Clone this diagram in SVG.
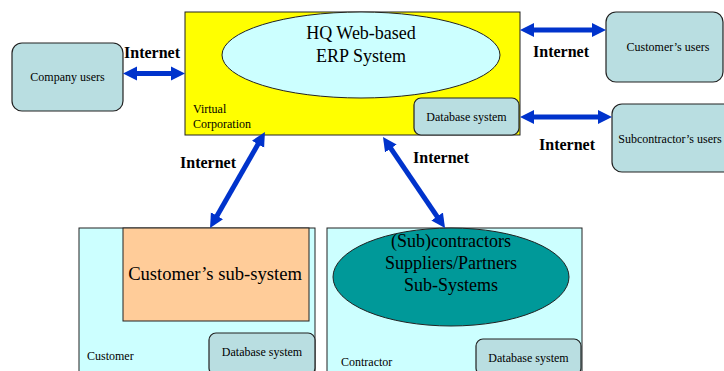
<svg xmlns="http://www.w3.org/2000/svg" width="724" height="371" viewBox="0 0 724 371">
<style>
text{fill:#000;font-family:'Liberation Serif','Times New Roman',serif}
.s{font-size:12px}
.m{font-size:18px}
.l{font-size:18.6px}
.net{font-size:16px;font-weight:bold}
.rb{fill:#B9DEE1;stroke:#222;stroke-width:1.2}
.arr{stroke:#0033CC;stroke-width:5;fill:none;marker-start:url(#ah);marker-end:url(#ah)}
</style>
<defs>
<marker id="ah" markerUnits="userSpaceOnUse" markerWidth="15" markerHeight="15" refX="1" refY="7" orient="auto-start-reverse" viewBox="0 0 15 14">
<path d="M0,0 L14,7 L0,14 z" fill="#0033CC"/>
</marker>
</defs>
<rect width="724" height="371" fill="#fff"/>

<g id="company-users">
<rect class="rb" x="12" y="43" width="111" height="68" rx="10"/>
<text class="s" x="67.5" y="81" text-anchor="middle">Company users</text>
</g>

<g id="virtual-corporation">
<rect x="185" y="12" width="335" height="123" fill="#FFFF00" stroke="#222" stroke-width="1"/>
<text class="s" x="193" y="113">Virtual</text>
<text class="s" x="193" y="128">Corporation</text>
</g>
<g id="hq-erp">
<ellipse cx="361" cy="55" rx="139" ry="43" fill="#CCFFFF" stroke="#222" stroke-width="1"/>
<text class="m" x="361" y="39" text-anchor="middle">HQ Web-based</text>
<text class="m" x="361" y="62" text-anchor="middle">ERP System</text>
</g>
<g id="hq-db">
<rect class="rb" x="414" y="98" width="105" height="37" rx="7"/>
<text class="s" x="466.5" y="121" text-anchor="middle">Database system</text>
</g>

<g id="customers-users">
<rect class="rb" x="606" y="12" width="117" height="70" rx="10"/>
<text class="s" x="668" y="51" text-anchor="middle">Customer’s users</text>
</g>

<g id="subcontractors-users">
<rect class="rb" x="612" y="104" width="122" height="68" rx="10"/>
<text class="s" x="670" y="143" text-anchor="middle">Subcontractor’s users</text>
</g>

<g id="customer">
<rect x="79" y="228" width="236" height="146" fill="#CCFFFF" stroke="#222" stroke-width="1"/>
<text class="s" x="87" y="360">Customer</text>
</g>
<g id="customer-subsystem">
<rect x="123" y="228" width="186" height="93" fill="#FFCC99" stroke="#222" stroke-width="1"/>
<text class="l" x="215" y="280" text-anchor="middle">Customer’s sub-system</text>
</g>
<g id="customer-db">
<rect class="rb" x="209" y="333" width="106" height="42" rx="7"/>
<text class="s" x="262" y="356" text-anchor="middle">Database system</text>
</g>

<g id="contractor">
<rect x="327" y="228" width="255" height="146" fill="#CCFFFF" stroke="#222" stroke-width="1"/>
<text class="s" x="341" y="366">Contractor</text>
</g>
<g id="contractor-subsystems">
<ellipse cx="451" cy="277" rx="118" ry="49" fill="#009999" stroke="#222" stroke-width="1"/>
<text class="m" x="451" y="247" text-anchor="middle">(Sub)contractors</text>
<text class="m" x="451" y="269" text-anchor="middle">Suppliers/Partners</text>
<text class="m" x="451" y="291" text-anchor="middle">Sub-Systems</text>
</g>
<g id="contractor-db">
<rect class="rb" x="476" y="339" width="105" height="36" rx="7"/>
<text class="s" x="528.5" y="362" text-anchor="middle">Database system</text>
</g>

<g id="connectors">
<line class="arr" x1="136" y1="73.5" x2="172" y2="73.5"/>
<line class="arr" x1="533" y1="30" x2="593" y2="30"/>
<line class="arr" x1="533" y1="117" x2="599" y2="117"/>
<line class="arr" x1="258.5" y1="143.3" x2="216.5" y2="216.7"/>
<line class="arr" x1="390.3" y1="147.7" x2="437.7" y2="217.3"/>
<text class="net" x="124" y="58">Internet</text>
<text class="net" x="533" y="57">Internet</text>
<text class="net" x="539" y="150">Internet</text>
<text class="net" x="180" y="168">Internet</text>
<text class="net" x="413" y="163">Internet</text>
</g>
</svg>
